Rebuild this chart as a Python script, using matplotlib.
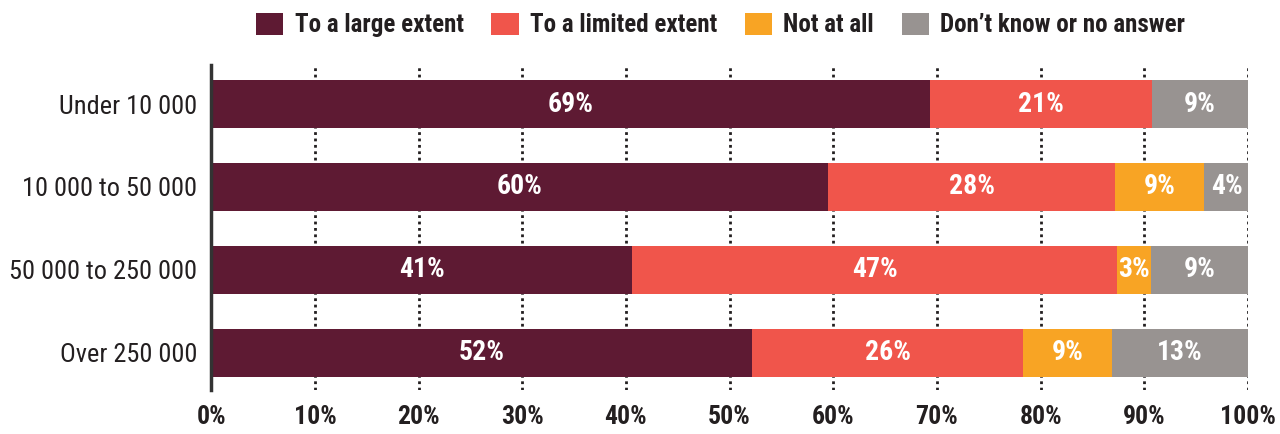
import matplotlib.pyplot as plt
import numpy as np

plt.rcParams['font.family'] = ['Roboto Condensed', 'DejaVu Sans']

# Data
groups = ['Under 10 000', '10 000 to 50 000', '50 000 to 250 000', 'Over 250 000']
series = ['To a large extent', 'To a limited extent', 'Not at all', 'Don\u2019t know or no answer']
large = [69.3, 59.5, 40.6, 52.2]
limited = [21.4, 27.7, 46.8, 26.1]
not_at_all = [0.0, 8.6, 3.2, 8.6]
dont_know = [9.3, 4.3, 9.4, 13.1]
ticks = [0, 10, 20, 30, 40, 50, 60, 70, 80, 90, 100]

colors = ['#5e1a33', '#f0554b', '#f8a424', '#989391']

fig = plt.figure(figsize=(12.8, 4.34), dpi=100)
ax = fig.add_axes([0.165, 0.101, 0.81, 0.749])

y = np.arange(len(groups))
left = np.zeros(len(groups))
handles = []
for vals, col, name in zip([large, limited, not_at_all, dont_know], colors, series):
    vals = np.array(vals)
    h = ax.barh(y, vals, left=left, height=0.58, color=col, label=name, zorder=3)
    handles.append(h)
    for yi, l, v in zip(y, left, vals):
        if v > 0:
            ax.text(l + v / 2, yi, f'{v:.0f}%', ha='center', va='center',
                    color='white', fontsize=20, fontweight='bold', zorder=4)
    left += vals

ax.set_xlim(0, 100)
ax.set_ylim(3.45, -0.47)
ax.set_xticks(ticks)
ax.set_xticklabels([f'{t}%' for t in ticks], fontsize=18.5, fontweight='bold', color='#231f20')
ax.set_yticks(y)
ax.set_yticklabels(groups, fontsize=19, color='#231f20')
ax.tick_params(axis='x', length=0, pad=11)
ax.tick_params(axis='y', length=0, pad=10)

for t in ticks[1:]:
    ax.axvline(t, color='#231f20', linestyle=(0, (1, 1.3)), linewidth=2, zorder=1)

for s in ['top', 'right', 'bottom']:
    ax.spines[s].set_visible(False)
ax.spines['left'].set_linewidth(2.5)
ax.spines['left'].set_color('#333333')
ax.spines['left'].set_zorder(5)

fig.legend(handles=handles, loc='center', bbox_to_anchor=(0.563, 0.942), ncol=4,
           frameon=False, handlelength=1.1, handleheight=0.95, handletextpad=0.45,
           columnspacing=1.1, prop={'size': 18, 'weight': 'bold'}, labelcolor='#231f20')

fig.savefig('out.png', dpi=100)
